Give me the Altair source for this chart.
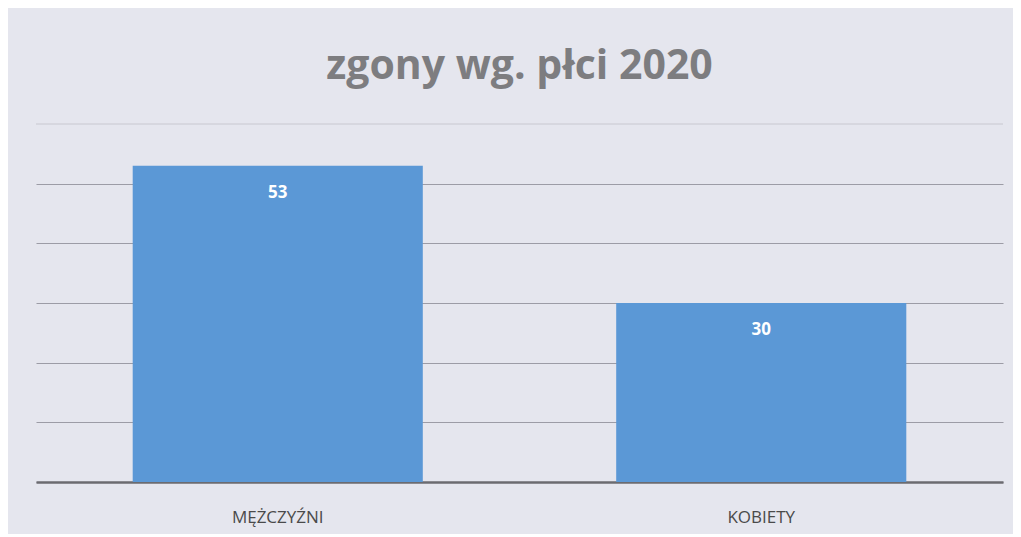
import altair as alt
import pandas as pd

categories = ["MĘŻCZYŹNI", "KOBIETY"]
values = [53, 30]

df = pd.DataFrame({"plec": categories, "zgony": values})

base = alt.Chart(df).encode(
    x=alt.X("plec:N", sort=categories, title=None,
            scale=alt.Scale(paddingInner=0.4, paddingOuter=0.2),
            axis=alt.Axis(labelAngle=0, labelFontSize=17, labelColor="#4a4a4a",
                          labelFont="Open Sans", labelPadding=27, ticks=False,
                          domainColor="#6b6b70", domainWidth=2.5, grid=False)),
)

bars = base.mark_bar(color="#5b98d6").encode(
    y=alt.Y("zgony:Q", title=None,
            scale=alt.Scale(domain=[0, 60], nice=False),
            axis=alt.Axis(values=[0, 10, 20, 30, 40, 50], labels=False, ticks=False,
                          domain=False, gridColor="#9c9ca6", gridWidth=1.2))
)

top_rule = alt.Chart(pd.DataFrame({"y": [60]})).mark_rule(
    color="#c8c8d0", strokeWidth=1).encode(y="y:Q")

labels = base.mark_text(color="white", fontSize=17, fontWeight="bold",
                        font="Open Sans", dy=27).encode(
    y=alt.Y("zgony:Q"), text=alt.Text("zgony:Q")
)

chart = (bars + top_rule + labels).properties(
    width=967, height=358,
    title=alt.TitleParams("zgony wg. płci 2020", fontSize=41, font="Open Sans",
                          fontWeight="bold", color="#7d7d80", anchor="middle", offset=36),
    autosize=alt.AutoSizeParams(type="none"),
    padding={"left": 28, "top": 116, "right": 10, "bottom": 52},
    background="#e5e6ee",
).configure_view(stroke=None)

chart.save("out.html", embed_options={"renderer": "svg", "actions": False})
